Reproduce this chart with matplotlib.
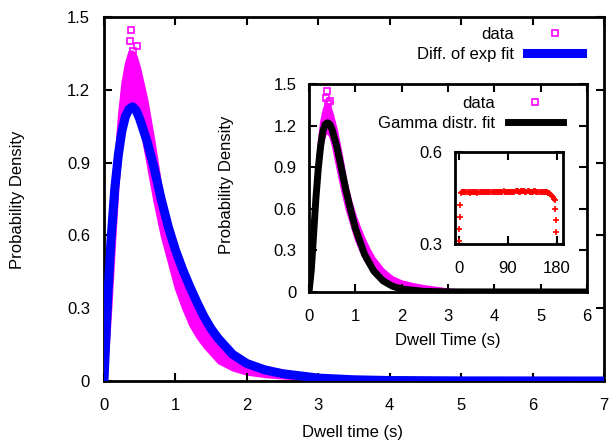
import matplotlib
matplotlib.use("Agg")
import matplotlib.pyplot as plt
from matplotlib.lines import Line2D

plt.rcParams["font.family"] = ["Liberation Sans", "DejaVu Sans"]
plt.rcParams["font.size"] = 12

# --- data ------------------------------------------------------------------
# dwell-time histogram: lower / upper edge of the (noisy) magenta band
t_data = [0, 0.03, 0.06, 0.1, 0.15, 0.2, 0.25, 0.3, 0.35, 0.4, 0.45, 0.5, 0.6, 0.7,
          0.8, 0.9, 1.0, 1.1, 1.2, 1.3, 1.4, 1.6, 1.8, 2.0, 2.25, 2.5, 3.0, 3.5, 4.0,
          5.0, 6.0, 7.0]
data_lo = [0, 0.03, 0.14, 0.32, 0.58, 0.82, 0.99, 1.09, 1.14, 1.15, 1.12, 1.06, 0.90,
           0.74, 0.60, 0.49, 0.38, 0.30, 0.23, 0.18, 0.14, 0.075, 0.045, 0.028, 0.018,
           0.012, 0.005, 0.002, 0.001, 0, 0, 0]
data_hi = [0.03, 0.15, 0.36, 0.62, 0.90, 1.09, 1.23, 1.31, 1.36, 1.36, 1.34, 1.29,
           1.16, 0.99, 0.80, 0.66, 0.55, 0.46, 0.38, 0.31, 0.25, 0.165, 0.11, 0.08,
           0.06, 0.045, 0.022, 0.012, 0.006, 0.002, 0.001, 0.0]
# a few isolated points above the peak
out_t = [0.38, 0.36, 0.46, 0.40]
out_y = [1.446, 1.40, 1.38, 1.36]

# difference-of-exponentials fit (main panel)
t_exp = [0, 0.02, 0.05, 0.1, 0.15, 0.2, 0.25, 0.3, 0.35, 0.4, 0.45, 0.5, 0.6, 0.7,
         0.8, 0.9, 1.0, 1.1, 1.2, 1.3, 1.4, 1.5, 1.6, 1.8, 2.0, 2.25, 2.5, 3.0, 3.5,
         4.0, 5.0, 7.0]
y_exp = [0, 0.14, 0.33, 0.59, 0.79, 0.93, 1.03, 1.09, 1.12, 1.13, 1.115, 1.08, 0.99,
         0.88, 0.75, 0.635, 0.54, 0.46, 0.39, 0.325, 0.265, 0.215, 0.175, 0.11, 0.072,
         0.046, 0.03, 0.012, 0.005, 0.002, 0.0005, 0]

# gamma distribution fit (inset)
t_gam = [0, 0.05, 0.1, 0.15, 0.2, 0.25, 0.3, 0.35, 0.4, 0.45, 0.5, 0.6, 0.7, 0.8,
         0.9, 1.0, 1.2, 1.4, 1.6, 1.8, 2.0, 2.5, 3.0, 6.0]
y_gam = [0, 0.16, 0.42, 0.68, 0.89, 1.05, 1.16, 1.21, 1.22, 1.21, 1.17, 1.05, 0.89,
         0.73, 0.59, 0.46, 0.27, 0.15, 0.08, 0.042, 0.021, 0.004, 0.001, 0]

# small inset (0..180)
ang = [0, 1, 2, 3] + list(range(4, 176, 2)) + [176, 177, 178, 179]
val = [0.31, 0.349, 0.388, 0.427,
       0.466, 0.468, 0.469, 0.470, 0.469, 0.468, 0.469, 0.468, 0.467, 0.468,
       0.469, 0.470, 0.470, 0.469, 0.468, 0.467, 0.468, 0.469, 0.469, 0.470,
       0.469, 0.468, 0.468, 0.469, 0.470, 0.471, 0.471, 0.470, 0.469, 0.469,
       0.468, 0.469, 0.470, 0.471, 0.470, 0.469, 0.469, 0.470, 0.471, 0.472,
       0.471, 0.470, 0.470, 0.471, 0.471, 0.470, 0.469, 0.469, 0.470, 0.471,
       0.472, 0.473, 0.472, 0.471, 0.471, 0.472, 0.473, 0.473, 0.472, 0.471,
       0.471, 0.472, 0.472, 0.471, 0.470, 0.470, 0.471, 0.472, 0.472, 0.471,
       0.470, 0.470, 0.470, 0.471, 0.471, 0.470, 0.469, 0.469, 0.468, 0.468,
       0.467, 0.465, 0.462, 0.458, 0.452, 0.448,
       0.445, 0.414, 0.378, 0.339]

MAG = "#ff00ff"
W, H = 616, 442


def px_axes(fig, left, top, right, bottom):
    return fig.add_axes([left / W, 1 - bottom / H, (right - left) / W, (bottom - top) / H])


def style(ax, pad_x, pad_y):
    for s in ax.spines.values():
        s.set_linewidth(2.0)
    ax.tick_params(direction="in", length=6, width=1.5, top=True, right=True,
                   labelsize=12)
    ax.tick_params(axis="x", pad=pad_x)
    ax.tick_params(axis="y", pad=pad_y)


def draw_data(ax):
    ax.fill_between(t_data, data_lo, data_hi, color=MAG, lw=1.5, ec=MAG, zorder=1)
    ax.plot(out_t, out_y, "s", ms=4.5, mfc="none", mec=MAG, mew=1.2, zorder=1)


fig = plt.figure(figsize=(W / 100, H / 100), dpi=100)

# main panel
ax = px_axes(fig, 104, 17, 604, 381)
draw_data(ax)
ax.plot(t_exp, y_exp, color="blue", lw=6.5, solid_capstyle="butt", zorder=3)
ax.set_xlim(0, 7)
ax.set_ylim(0, 1.5)
ax.set_xticks(range(0, 8))
ax.set_yticks([0, 0.3, 0.6, 0.9, 1.2, 1.5])
ax.set_yticklabels(["0", "0.3", "0.6", "0.9", "1.2", "1.5"])
style(ax, 12, 10)
h_data = Line2D([], [], ls="none", marker="s", ms=4.5, mfc="none", mec=MAG, mew=1.2)
h_exp = Line2D([], [], color="blue", lw=6.5)
ax.legend([h_data, h_exp], ["data", "Diff. of exp fit"], loc="upper right",
          bbox_to_anchor=(582 / W, 1 - 27 / H), bbox_transform=fig.transFigure,
          markerfirst=False, frameon=False, handlelength=3.3, handletextpad=0.8,
          labelspacing=0.3, borderpad=0, borderaxespad=0, fontsize=12)
fig.text(18 / W, 1 - 200 / H, "Probability Density", rotation=90, ha="center",
         va="center", fontsize=12)
fig.text(352 / W, 1 - 432 / H, "Dwell time (s)", ha="center", va="center", fontsize=12)

# inset
ax2 = px_axes(fig, 309, 84, 587, 292)
draw_data(ax2)
ax2.plot(t_gam, y_gam, color="black", lw=5, zorder=3)
ax2.set_xlim(0, 6)
ax2.set_ylim(0, 1.5)
ax2.set_xticks(range(0, 7))
ax2.set_yticks([0, 0.3, 0.6, 0.9, 1.2, 1.5])
ax2.set_yticklabels(["0", "0.3", "0.6", "0.9", "1.2", "1.5"])
style(ax2, 12, 9)
h_gam = Line2D([], [], color="black", lw=5)
ax2.legend([h_data, h_gam], ["data", "Gamma distr. fit"], loc="upper right",
           bbox_to_anchor=(563 / W, 1 - 96 / H), bbox_transform=fig.transFigure,
           markerfirst=False, frameon=False, handlelength=3.3, handletextpad=0.8,
           labelspacing=0.3, borderpad=0, borderaxespad=0, fontsize=12)
fig.text(226 / W, 1 - 185 / H, "Probability Density", rotation=90, ha="center",
         va="center", fontsize=12)
fig.text(448 / W, 1 - 340 / H, "Dwell Time (s)", ha="center", va="center", fontsize=12)

# small inset
ax3 = px_axes(fig, 455, 152, 563, 244)
ax3.plot(ang, val, "+", color="red", ms=4, mew=1.2, clip_on=False)
ax3.set_xlim(-7, 191)
ax3.set_ylim(0.3, 0.6)
ax3.set_xticks([0, 90, 180])
ax3.set_yticks([0.3, 0.6])
style(ax3, 12, 9)

fig.savefig("out.png", dpi=100)
